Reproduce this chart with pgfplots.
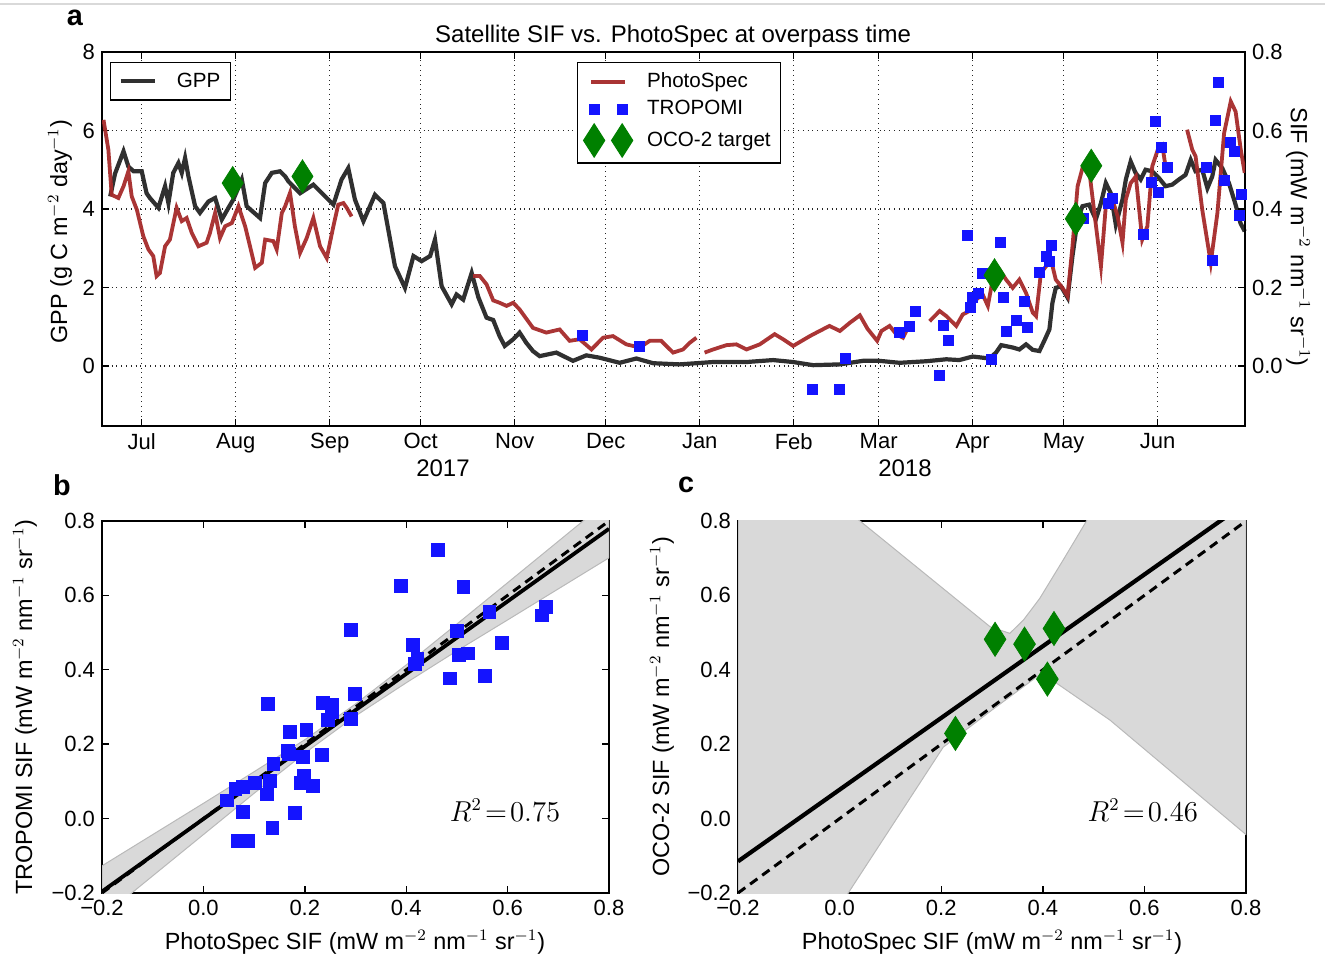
\documentclass[border=0pt]{standalone}
\usepackage[no-math]{fontspec}
\setmainfont{Liberation Sans}
\usepackage{pgfplots}
\pgfplotsset{compat=1.18}
\definecolor{gppc}{RGB}{48,48,48}
\definecolor{psc}{RGB}{165,42,42}
\definecolor{tropc}{RGB}{20,20,255}
\definecolor{ococ}{RGB}{0,128,0}
\definecolor{bandc}{RGB}{217,217,217}
\definecolor{bandedge}{RGB}{185,185,185}
\pgfplotsset{
  every axis/.append style={
    scale only axis,
    tick align=inside,
    axis line style={line width=0.8pt},
    major tick length=3.5pt,
    every tick/.style={black, line width=0.7pt},
    /pgf/number format/assume math mode=true,
    label style={font=\fontsize{11.7pt}{14pt}\selectfont},
    tick label style={font=\fontsize{11pt}{13pt}\selectfont},
    legend style={font=\fontsize{10.3pt}{12pt}\selectfont},
  },
  linelegend/.style={legend image code/.code={\draw[##1] (0pt,0pt) -- (17pt,0pt); \path (-1pt,0pt) (25pt,0pt);}},
  marklegend/.style={legend image code/.code={\draw[##1, only marks] plot coordinates {(1.5pt,0pt) (15.5pt,0pt)}; \path (-1pt,0pt) (25pt,0pt);}},
}
\begin{document}
\begin{tikzpicture}
\path[use as bounding box] (0,0) rectangle (662.5pt,479pt);
\draw[gray!30, line width=0.6pt] (0,477pt) -- (662.5pt,477pt);
\node[font=\bfseries\Large] at (37.5pt,470pt) {a};
\node[font=\bfseries\Large] at (31pt,236.5pt) {b};
\node[font=\bfseries\Large] at (343pt,236.5pt) {c};

% ---------------- panel a : GPP ----------------
\begin{axis}[
  at={(51pt,266pt)}, anchor=south west,
  width=571.5pt, height=187pt,
  clip=false,
  xmin=-13.1, xmax=363.8, ymin=-1.53, ymax=8,
  xtick={0,31,62,92,123,153,184,215,243,274,304,335},
  xticklabels={Jul,Aug,Sep,Oct,Nov,Dec,Jan,Feb,Mar,Apr,May,Jun},
  ytick={0,2,4,6,8},
  xtick pos=both, ytick pos=left,
  grid=major, grid style={dotted, black!85, line width=0.6pt},
  ylabel={GPP (g C m$^{-2}$ day$^{-1}$)},
  ylabel style={at={(axis description cs:-0.0367,0.52)}, anchor=center},
  legend style={at={(axis description cs:0.007,0.973)}, anchor=north west, draw=black, line width=0.6pt, inner xsep=3pt, inner ysep=3pt},
  legend cell align=left,
  unbounded coords=jump,
]
\addplot[gppc, line width=2.1pt, linelegend] coordinates {
(-10.4,4.32) (-8.8,4.90) (-6,5.47) (-4.4,5.08) (-2.7,4.96) (0,4.96) (1.6,4.40) (2.7,4.28)
(5.5,4.03) (7.7,4.58) (8.8,4.15) (10.4,4.92) (12.1,5.17) (13.2,4.92) (14.3,5.30) (15.4,4.83)
(17.6,4.07) (19.2,3.90) (22,4.19) (24.2,4.28) (26.4,3.73) (28.6,4.03) (30.2,4.24) (33,4.75)
(34.6,4.07) (39,3.77) (40.7,4.66) (42.9,4.92) (45.6,4.96) (47.3,4.83) (48.4,4.70) (52.2,4.40)
(56.6,4.62) (61,4.28) (63.2,4.11) (65.9,4.75) (68.1,5.04) (70.3,4.24) (73.1,3.69) (76.9,4.36)
(79.7,4.15) (83.5,2.54) (86.8,1.99) (89.6,2.80) (92.3,2.67) (95.1,2.80) (96.7,3.22) (98.9,2.03)
(102.2,1.57) (103.8,1.82) (106,1.69) (108.8,2.37) (111,1.75) (113.7,1.23) (115.9,1.17) (118,0.76)
(119.7,0.51) (122.5,0.68) (124.6,0.85) (126.8,0.59) (129,0.38) (131.2,0.25) (136.7,0.34) (142.2,0.13)
(146.6,0.27) (151,0.21) (157.6,0.08) (163.1,0.19) (168.6,0.07) (177.4,0.04) (188.4,0.10) (199.4,0.10)
(208.2,0.15) (214.8,0.10) (221.4,0.02) (230.2,0.04) (237.8,0.13) (243.3,0.13) (249.9,0.08) (258.7,0.12)
(265.3,0.17) (269.6,0.15) (274,0.24) (279.5,0.19) (281.7,0.34) (283.4,0.53) (287.2,0.47) (289.4,0.42)
(291.6,0.55) (293.8,0.41) (296,0.38) (297.6,0.64) (299.3,0.93) (300.3,1.61) (301.4,1.99) (303.1,2.03)
(305.3,1.74) (306.9,2.80) (308.6,3.73) (310.2,4.07) (312.4,4.11) (314.6,3.73) (316.3,4.15) (317.9,4.66)
(319.5,4.41) (321.2,3.60) (323.4,4.24) (324.5,4.75) (326.1,5.21) (327.7,4.92) (329.4,4.75) (331,5.00)
(333.2,4.96) (335.4,4.79) (337.6,4.58) (339.8,4.62) (342,4.75) (344.2,4.87) (345.9,5.25) (347.5,4.96)
(349.7,5.00) (351.4,4.53) (353,4.83) (354.1,5.25) (356.3,5.04) (358.5,4.66) (360.7,4.11) (362.3,3.64)
(363.7,3.43)
};
\addlegendentry{GPP}
\node[font=\fontsize{12pt}{14pt}\selectfont] at (axis description cs:0.2983,-0.112) {2017};
\node[font=\fontsize{12pt}{14pt}\selectfont] at (axis description cs:0.7025,-0.112) {2018};
\node[font=\fontsize{12pt}{14pt}\selectfont] at (axis description cs:0.4996,1.043) {Satellite SIF vs. PhotoSpec at overpass time};
\end{axis}

% ---------------- panel a : SIF (right axis) ----------------
\begin{axis}[
  at={(51pt,266pt)}, anchor=south west,
  width=571.5pt, height=187pt,
  xmin=-13.1, xmax=363.8, ymin=-0.153, ymax=0.8,
  axis x line=none, axis y line*=right,
  ytick={0,0.2,0.4,0.6,0.8},
  yticklabels={0.0,0.2,0.4,0.6,0.8},
  ylabel={SIF (mW m$^{-2}$ nm$^{-1}$ sr$^{-1}$)},
  ylabel style={at={(axis description cs:1.0464,0.505)}, anchor=center, rotate=180},
  legend style={at={(axis description cs:0.4156,0.973)}, anchor=north west, draw=black, line width=0.6pt, inner xsep=3pt, inner ysep=3pt, row sep=1pt},
  legend cell align=left,
  unbounded coords=jump,
]
\addplot[psc, opacity=0.95, line width=1.9pt, linelegend] coordinates {
(-12.6,0.627) (-11,0.551) (-9.9,0.436) (-7.7,0.428) (-6,0.458) (-4.4,0.496) (-3.3,0.432) (-1.6,0.398)
(0.5,0.331) (2.2,0.297) (3.8,0.280) (4.9,0.229) (6,0.237) (7.7,0.305) (9.3,0.322) (11.5,0.403)
(13.2,0.369) (14.8,0.377) (16.5,0.339) (18.7,0.305) (21.4,0.314) (22.5,0.339) (24.2,0.390) (25.8,0.326)
(27.5,0.356) (29.7,0.364) (31.9,0.407) (34.1,0.356) (35.7,0.305) (37.4,0.250) (39.6,0.263) (40.7,0.322)
(43.4,0.318) (44.5,0.297) (46.2,0.390) (47.3,0.407) (48.9,0.441) (50.5,0.356) (52.2,0.288) (54.4,0.326)
(56.6,0.377) (58.8,0.305) (61,0.275) (63.2,0.356) (64.8,0.411) (66.5,0.415) (67.6,0.403) (69.2,0.381)
(70,nan)
(109.3,0.229) (111.5,0.229) (113.7,0.208) (115.9,0.167) (118,0.161) (120.3,0.153) (122.5,0.161) (124.6,0.144)
(129,0.097) (133.4,0.085) (137.8,0.093) (141.1,0.064) (144.4,0.068) (148.3,0.042) (152.1,0.072) (155.4,0.076)
(159.8,0.055) (164.2,0.047) (167.5,0.064) (171.3,0.064) (175.2,0.034) (178.5,0.042) (180.7,0.059) (182.9,0.072)
(184,nan)
(185.6,0.034) (188.4,0.042) (192.8,0.053) (196.1,0.055) (199.4,0.042) (203.8,0.055) (208.7,0.081) (211.5,0.068)
(214.8,0.051) (220.3,0.076) (223.5,0.089) (226.8,0.102) (230.2,0.089) (233.5,0.110) (236.8,0.129) (239.3,0.095)
(242.5,0.064) (243.9,0.089) (246.6,0.102) (248.8,0.081) (251,0.072) (252.1,0.089)
(255,nan)
(259.8,0.114) (263.1,0.140) (265.3,0.127) (268.6,0.102) (270.7,0.131) (272.9,0.140) (275.1,0.169) (277.3,0.182)
(279,0.153) (280.6,0.220) (282.8,0.246) (285,0.220) (287.2,0.199) (289.4,0.220) (291.6,0.186) (293.8,0.136)
(294.9,0.127) (296.5,0.237) (298.2,0.254) (299.8,0.271) (301.4,0.220) (303.6,0.199) (305.3,0.178) (306.9,0.305)
(308.6,0.458) (310.2,0.504) (312.4,0.500) (314,0.398) (316.3,0.254) (317.9,0.407) (320.1,0.424) (321.8,0.381)
(323.4,0.314) (324.5,0.424) (326.1,0.466) (327.8,0.483) (329.9,0.322) (331.6,0.356) (333.2,0.508) (335.4,0.559)
(336.5,0.564) (337.6,0.508)
(340,nan)
(344.7,0.602) (346.4,0.551) (347.5,0.534) (349.7,0.398) (352.5,0.263) (354.7,0.390) (356.9,0.593) (359.1,0.674)
(360.7,0.648) (362.4,0.551) (363.7,0.492)
};
\addlegendentry{PhotoSpec}
\addplot[only marks, mark=square*, mark size=2.5pt, mark options={fill=tropc, draw=tropc}, marklegend] coordinates {
(145.2,0.079) (164.2,0.049) (221.1,-0.059) (229.9,-0.059) (232.1,0.019) (249.9,0.086) (253.2,0.100) (255.2,0.140)
(263.1,-0.024) (264.2,0.104) (266.1,0.065) (272.2,0.332) (273.3,0.148) (274.0,0.175) (276.0,0.184) (277.1,0.235)
(280.3,0.017) (283.1,0.314) (284.1,0.174) (285.2,0.087) (288.3,0.116) (291.0,0.165) (292.2,0.099) (296.1,0.239)
(298.2,0.280) (299.2,0.267) (300.1,0.307) (310.4,0.377) (318.9,0.415) (320.2,0.428) (330.2,0.336) (333.0,0.468)
(334.1,0.623) (335.1,0.443) (336.1,0.557) (338.1,0.506) (351.0,0.507) (353.1,0.269) (354.1,0.625) (355.0,0.722)
(357.1,0.472) (359.1,0.570) (360.2,0.547) (362.0,0.383) (362.6,0.438)
};
\addlegendentry{TROPOMI}
\addplot[only marks, mark=diamond*, mark size=8.25pt, mark options={fill=ococ, draw=ococ, xscale=0.85}, marklegend] coordinates {
(30,0.466) (53,0.483) (281.2,0.231) (308,0.375) (313.1,0.510)
};
\addlegendentry{OCO-2 target}
\end{axis}

% ---------------- panel b ----------------
\begin{axis}[
  at={(51pt,32.5pt)}, anchor=south west,
  width=253.5pt, height=186pt,
  xmin=-0.2, xmax=0.8, ymin=-0.2, ymax=0.8,
  xtick={-0.2,0,0.2,0.4,0.6,0.8}, ytick={-0.2,0,0.2,0.4,0.6,0.8},
  xticklabels={−0.2,0.0,0.2,0.4,0.6,0.8}, yticklabels={−0.2,0.0,0.2,0.4,0.6,0.8},
  tick pos=both,
  xlabel={PhotoSpec SIF (mW m$^{-2}$ nm$^{-1}$ sr$^{-1}$)},
  xlabel style={at={(axis description cs:0.499,-0.132)}, anchor=center},
  ylabel={TROPOMI SIF (mW m$^{-2}$ nm$^{-1}$ sr$^{-1}$)},
  ylabel style={at={(axis description cs:-0.152,0.5)}, anchor=center},
]
\addplot[fill=bandc, draw=bandedge, line width=0.5pt] coordinates {
(-0.2,-0.127) (0,0.041) (0.1,0.126) (0.2,0.212) (0.3,0.308) (0.4,0.413) (0.5,0.523) (0.6,0.634) (0.8,0.857)
(0.8,0.701) (0.6,0.534) (0.5,0.451) (0.4,0.365) (0.3,0.276) (0.2,0.176) (0.1,0.068) (0,-0.043) (-0.2,-0.265)
} -- cycle;
\addplot[black, line width=1.5pt, dash pattern=on 4.5pt off 3pt] coordinates {(-0.2,-0.2) (0.8,0.8)};
\addplot[black, line width=1.9pt] coordinates {(-0.2,-0.196) (0.8,0.779)};
\addplot[only marks, mark=square*, mark size=3.2pt, mark options={fill=tropc, draw=tropc}] coordinates {
(0.462,0.723) (0.390,0.625) (0.513,0.622) (0.564,0.556) (0.676,0.569) (0.668,0.546) (0.291,0.507) (0.500,0.505)
(0.413,0.467) (0.588,0.472) (0.504,0.439) (0.521,0.444) (0.422,0.429) (0.417,0.415) (0.486,0.377) (0.555,0.383)
(0.299,0.336) (0.127,0.308) (0.235,0.312) (0.254,0.306) (0.254,0.286) (0.245,0.265) (0.291,0.267) (0.170,0.233)
(0.203,0.238) (0.166,0.183) (0.169,0.173) (0.196,0.165) (0.234,0.172) (0.138,0.146) (0.101,0.097) (0.131,0.102)
(0.199,0.115) (0.192,0.097) (0.216,0.087) (0.063,0.079) (0.078,0.086) (0.046,0.049) (0.126,0.065) (0.078,0.018)
(0.181,0.016) (0.136,-0.026) (0.067,-0.060) (0.088,-0.060)
};
\node[font=\fontsize{13.5pt}{16pt}\selectfont] at (axis description cs:0.795,0.223) {$R^2\!=\!0.75$};
\end{axis}

% ---------------- panel c ----------------
\begin{axis}[
  at={(369pt,32.5pt)}, anchor=south west,
  width=254pt, height=186pt,
  xmin=-0.2, xmax=0.8, ymin=-0.2, ymax=0.8,
  xtick={-0.2,0,0.2,0.4,0.6,0.8}, ytick={-0.2,0,0.2,0.4,0.6,0.8},
  xticklabels={−0.2,0.0,0.2,0.4,0.6,0.8}, yticklabels={−0.2,0.0,0.2,0.4,0.6,0.8},
  tick pos=both,
  xlabel={PhotoSpec SIF (mW m$^{-2}$ nm$^{-1}$ sr$^{-1}$)},
  xlabel style={at={(axis description cs:0.5,-0.132)}, anchor=center},
  ylabel={OCO-2 SIF (mW m$^{-2}$ nm$^{-1}$ sr$^{-1}$)},
  ylabel style={at={(axis description cs:-0.1496,0.5)}, anchor=center},
]
\addplot[fill=bandc, draw=bandedge, line width=0.5pt] coordinates {
(-0.2,1.064) (0.04,0.80) (0.079,0.757) (0.296,0.516) (0.335,0.498) (0.362,0.534) (0.394,0.592) (0.44,0.695)
(0.486,0.80) (0.8,1.6)
(0.8,-0.043) (0.532,0.265) (0.427,0.364) (0.41,0.388) (0.39,0.383) (0.30,0.292) (0.204,0.192) (0.017,-0.2) (-0.2,-0.65)
} -- cycle;
\addplot[black, line width=1.5pt, dash pattern=on 4.5pt off 3pt] coordinates {(-0.2,-0.2) (0.8,0.8)};
\addplot[black, line width=2.1pt] coordinates {(-0.2,-0.115) (0.8,0.849)};
\addplot[only marks, mark=diamond*, mark size=8.5pt, mark options={fill=ococ, draw=ococ, xscale=0.85}] coordinates {
(0.306,0.482) (0.364,0.469) (0.422,0.511) (0.409,0.375) (0.228,0.229)
};
\node[font=\fontsize{13.5pt}{16pt}\selectfont] at (axis description cs:0.797,0.223) {$R^2\!=\!0.46$};
\end{axis}
\end{tikzpicture}
\end{document}
